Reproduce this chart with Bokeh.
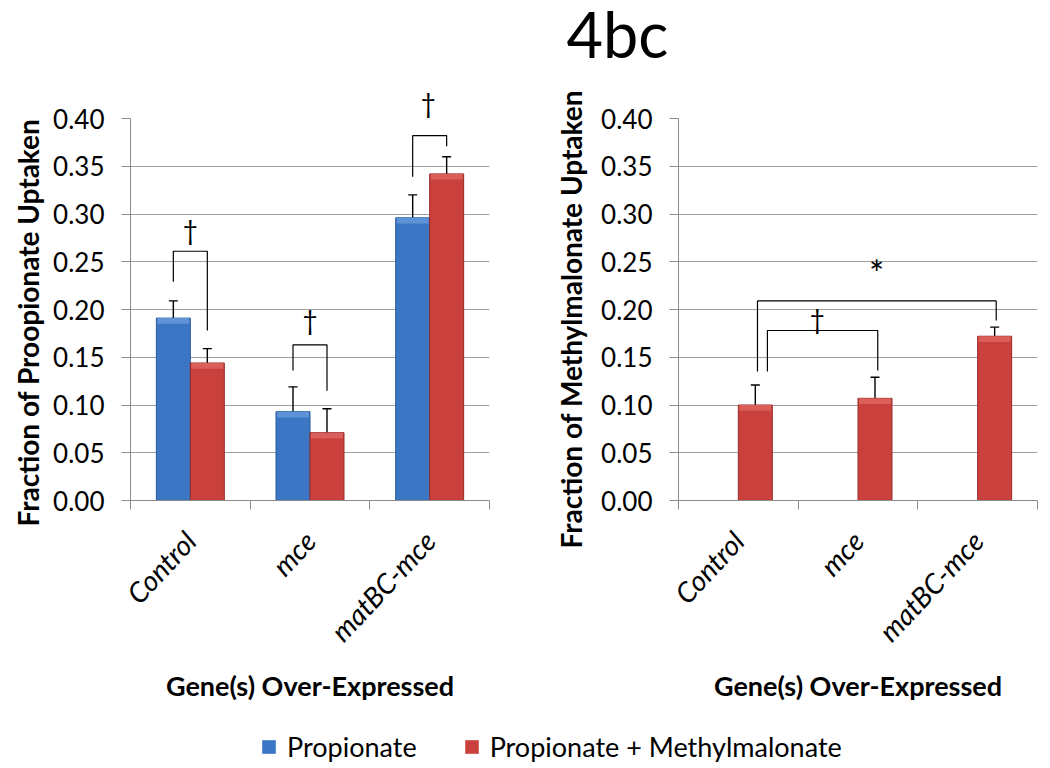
import numpy as np
from bokeh.plotting import figure
from bokeh.layouts import column, row
from bokeh.models import (Range1d, FixedTicker, NumeralTickFormatter, ColumnDataSource,
                          Whisker, TeeHead, Label, Legend, LegendItem, Title)
from bokeh.embed import file_html
from bokeh.resources import INLINE

# ---------------- data ----------------
categories = ["Control", "mce", "matBC-mce"]
series_names = ["Propionate", "Propionate + Methylmalonate"]
y_ticks = [0.00, 0.05, 0.10, 0.15, 0.20, 0.25, 0.30, 0.35, 0.40]

# left panel: Fraction of Proopionate Uptaken
prop_vals = [0.191, 0.093, 0.296]
prop_errs = [0.018, 0.026, 0.024]
propmm_vals = [0.144, 0.071, 0.342]
propmm_errs = [0.015, 0.025, 0.018]

# right panel: Fraction of Methylmalonate Uptaken (Propionate + Methylmalonate)
mm_vals = [0.100, 0.107, 0.172]
mm_errs = [0.021, 0.022, 0.0095]

# significance brackets (data units): x_left, x_right, y_left_end, y_bar, y_right_end
left_br_xl = [0.358, 1.358, 2.358]
left_br_xr = [0.642, 1.642, 2.642]
left_br_yl = [0.229, 0.136, 0.339]
left_br_top = [0.261, 0.163, 0.382]
left_br_yr = [0.178, 0.115, 0.371]
left_sym = ["\u2020", "\u2020", "\u2020"]
left_sym_y = [0.283, 0.189, 0.412]

right_br_xl = [0.66, 0.743]
right_br_xr = [2.655, 1.665]
right_br_yl = [0.135, 0.135]
right_br_top = [0.209, 0.178]
right_br_yr = [0.1886, 0.136]
right_sym = ["*", "\u2020"]
right_sym_x = [1.655, 1.16]
right_sym_y = [0.238, 0.190]

# ---------------- style ----------------
FONT = "Lato"
BLUE, BLUE_EDGE, BLUE_HI = "#3B76C4", "#2B5A99", "#5F93D8"
RED, RED_EDGE, RED_HI = "#C9403C", "#962B28", "#DA5E59"
GRID = "#A0A0A0"
AXIS = "#8C8C8C"
BAR_W = 0.284
OFF = 0.142
Y_MAX = 0.40
FRAME_W = 359

centers = np.arange(len(categories)) + 0.5


def make_panel(width, min_left, ylabel, ylabel_offset, ylabel_standoff):
    p = figure(width=width, height=650, x_range=Range1d(0, 3), y_range=Range1d(0, Y_MAX),
               output_backend="svg", toolbar_location=None,
               min_border_left=min_left, min_border_right=width - min_left - FRAME_W,
               min_border_top=40, min_border_bottom=228)
    p.outline_line_color = None
    p.xgrid.visible = False
    p.ygrid.ticker = FixedTicker(ticks=y_ticks)
    p.ygrid.grid_line_color = GRID
    p.ygrid.grid_line_width = 1

    ya = p.yaxis[0]
    ya.ticker = FixedTicker(ticks=y_ticks)
    ya.formatter = NumeralTickFormatter(format="0.00")
    ya.axis_line_color = AXIS
    ya.major_tick_line_color = AXIS
    ya.major_tick_out = 9
    ya.major_tick_in = 0
    ya.minor_tick_line_color = None
    ya.major_label_text_font = FONT
    ya.major_label_text_font_size = "26px"
    ya.major_label_text_color = "black"
    ya.major_label_standoff = 17

    # y title as a side title so it can sit slightly below the frame centre
    p.add_layout(Title(text=ylabel, align="left", offset=ylabel_offset,
                       standoff=ylabel_standoff,
                       text_font=FONT, text_font_style="bold", text_font_size="28px",
                       text_color="black"), "left")

    xa = p.xaxis[0]
    xa.ticker = FixedTicker(ticks=list(centers), minor_ticks=[0, 1, 2, 3])
    xa.major_label_overrides = {float(c): lab for c, lab in zip(centers, categories)}
    xa.major_tick_line_color = None
    xa.major_tick_out = 0
    xa.minor_tick_line_color = AXIS
    xa.minor_tick_out = 9
    xa.minor_tick_in = 0
    xa.axis_line_color = AXIS
    xa.major_label_orientation = 0.82
    xa.major_label_text_font = FONT
    xa.major_label_text_font_style = "italic"
    xa.major_label_text_font_size = "28px"
    xa.major_label_text_color = "black"
    xa.major_label_standoff = 26
    xa.axis_label = "Gene(s) Over-Expressed"
    xa.axis_label_text_font = FONT
    xa.axis_label_text_font_style = "bold"
    xa.axis_label_text_font_size = "27px"
    xa.axis_label_text_color = "black"
    xa.axis_label_standoff = 7
    return p


def add_bars(p, vals, errs, offset, color, edge, hi):
    v = np.array(vals)
    e = np.array(errs)
    src = ColumnDataSource(dict(x=centers + offset, top=v, hi_bottom=v - 0.006,
                                upper=v + e, lower=v - e))
    p.vbar(x="x", top="top", bottom=0, width=BAR_W, source=src,
           fill_color=color, line_color=edge, line_width=1)
    p.vbar(x="x", top="top", bottom="hi_bottom", width=BAR_W * 0.94, source=src,
           fill_color=hi, line_color=None)
    p.add_layout(Whisker(source=src, base="x", upper="upper", lower="lower",
                         line_color="black", line_width=1.4,
                         upper_head=TeeHead(size=9, line_color="black", line_width=1.4),
                         lower_head=TeeHead(size=9, line_color="black", line_width=1.4)))


def add_brackets(p, xl, xr, yl, top, yr, syms, sx, sy):
    xs = [[a, a, b, b] for a, b in zip(xl, xr)]
    ys = [[c, t, t, d] for c, t, d in zip(yl, top, yr)]
    p.multi_line(xs=xs, ys=ys, line_color="black", line_width=1.2)
    px_per_x = FRAME_W / 3.0
    for s, x, y in zip(syms, sx, sy):
        size = "36px" if s == "*" else "26px"
        if y > Y_MAX:
            # above the plotting area: a title in the top border (not clipped)
            p.add_layout(Title(text=s, align="left", offset=x * px_per_x - 9,
                               standoff=0, text_font=FONT, text_font_size=size,
                               text_font_style="normal", text_color="black"), "above")
        else:
            p.add_layout(Label(x=x, y=y, text=s, text_align="center", text_baseline="middle",
                               text_font=FONT, text_font_size=size, text_color="black"))


# left panel
p1 = make_panel(540, 130, "Fraction of Proopionate Uptaken", -26, 12)
add_bars(p1, prop_vals, prop_errs, -OFF, BLUE, BLUE_EDGE, BLUE_HI)
add_bars(p1, propmm_vals, propmm_errs, OFF, RED, RED_EDGE, RED_HI)
add_brackets(p1, left_br_xl, left_br_xr, left_br_yl, left_br_top, left_br_yr, left_sym,
             [(a + b) / 2 for a, b in zip(left_br_xl, left_br_xr)], left_sym_y)

# right panel
p2 = make_panel(510, 138, "Fraction of Methylmalonate Uptaken", -48, 22)
add_bars(p2, mm_vals, mm_errs, OFF, RED, RED_EDGE, RED_HI)
add_brackets(p2, right_br_xl, right_br_xr, right_br_yl, right_br_top, right_br_yr,
             right_sym, right_sym_x, right_sym_y)

# title
tf = figure(width=1050, height=78, x_range=Range1d(0, 1050), y_range=Range1d(0, 78),
            output_backend="svg", toolbar_location=None, min_border=0)
tf.axis.visible = False
tf.grid.visible = False
tf.outline_line_color = None
tf.add_layout(Label(x=617, y=45, text="4bc", text_font=FONT, text_font_size="63px",
                    text_align="center", text_baseline="middle", text_color="black"))

# legend
lg = figure(width=1050, height=40, x_range=Range1d(0, 1), y_range=Range1d(0, 1),
            output_backend="svg", toolbar_location=None, min_border=0)
lg.axis.visible = False
lg.grid.visible = False
lg.outline_line_color = None
r1 = lg.vbar(x=[0.5], bottom=[0.5], top=[0.5], width=0, fill_color=BLUE, line_color=None)
r2 = lg.vbar(x=[0.5], bottom=[0.5], top=[0.5], width=0, fill_color=RED, line_color=None)
legend = Legend(items=[LegendItem(label=series_names[0], renderers=[r1]),
                       LegendItem(label=series_names[1], renderers=[r2])],
                location=(260, 5), orientation="horizontal",
                label_text_font=FONT, label_text_font_size="27px", label_text_color="black",
                glyph_width=17, glyph_height=17, label_standoff=10, spacing=46,
                padding=0, margin=0, border_line_color=None, background_fill_alpha=0)
lg.add_layout(legend)

layout = column(tf, row(p1, p2), lg)
open("out.html", "w").write(file_html(layout, INLINE))
